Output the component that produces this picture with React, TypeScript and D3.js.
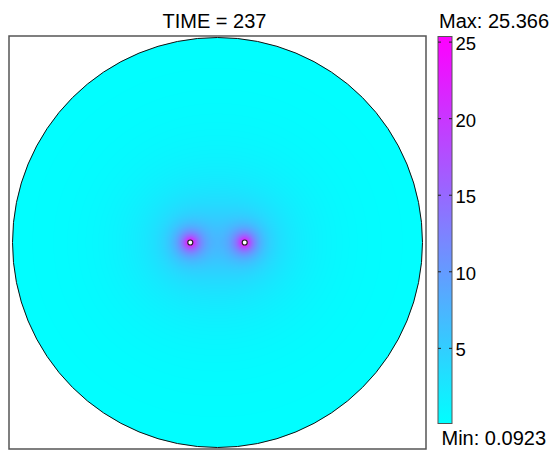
import React, { useMemo } from "react";
import * as d3 from "d3";

// Scalar field on a disc: two point sources over a low background
const TITLE = "TIME = 237";
const V_MIN = 0.0923;
const V_MAX = 25.366;
const COLORBAR_TICKS = [5, 10, 15, 20, 25];
// Source positions in disc-radius units
const SOURCE_X = [-0.1327, 0.1327];
const SOURCE_Y = [0, 0];
// Near-field and far-field amplitudes, decay lengths (disc-radius units)
const NEAR_AMP = [22, 22];
const FAR_AMP = [5.5, 5.5];
const NEAR_LEN = [0.039, 0.039];
const FAR_LEN = [0.2, 0.2];

const W = 555;
const H = 451;
const FRAME = { x0: 9, y0: 36, x1: 426, y1: 449 };
const DISC = { cx: 217.5, cy: 242.5, r: 205 };
const BAR = { x0: 438, x1: 452, y0: 36.5, y1: 423.5 };
const FONT = "'Liberation Sans', Arial, sans-serif";

const color = d3
  .scaleLinear<string>()
  .domain([V_MIN, V_MAX])
  .range(["#00ffff", "#ff00ff"])
  .interpolate(d3.interpolateRgb)
  .clamp(true);

function fieldValue(u: number, v: number): number {
  let s = V_MIN;
  for (let i = 0; i < SOURCE_X.length; i++) {
    const r = Math.hypot(u - SOURCE_X[i], v - SOURCE_Y[i]);
    s += NEAR_AMP[i] * Math.exp(-r / NEAR_LEN[i]) + FAR_AMP[i] * Math.exp(-r / FAR_LEN[i]);
  }
  return Math.min(s, V_MAX);
}

export default function App() {
  const size = Math.ceil(DISC.r * 2);
  const href = useMemo(() => {
    const canvas = document.createElement("canvas");
    canvas.width = size;
    canvas.height = size;
    const ctx = canvas.getContext("2d")!;
    const img = ctx.createImageData(size, size);
    for (let j = 0; j < size; j++) {
      for (let i = 0; i < size; i++) {
        const u = (i + 0.5 - DISC.r) / DISC.r;
        const v = (j + 0.5 - DISC.r) / DISC.r;
        const c = d3.rgb(color(fieldValue(u, v)));
        const k = (j * size + i) * 4;
        img.data[k] = c.r;
        img.data[k + 1] = c.g;
        img.data[k + 2] = c.b;
        img.data[k + 3] = 255;
      }
    }
    ctx.putImageData(img, 0, 0);
    return canvas.toDataURL();
  }, [size]);

  const yBar = d3.scaleLinear().domain([V_MIN, V_MAX]).range([BAR.y1, BAR.y0]);
  const xDisc = d3.scaleLinear().domain([-1, 1]).range([DISC.cx - DISC.r, DISC.cx + DISC.r]);
  const yDisc = d3.scaleLinear().domain([-1, 1]).range([DISC.cy - DISC.r, DISC.cy + DISC.r]);

  return (
    <svg
      width={W}
      height={H}
      style={{ position: "absolute", left: 0, top: 0, background: "#fff" }}
      fontFamily={FONT}
    >
      <defs>
        <clipPath id="disc-clip">
          <circle cx={DISC.cx} cy={DISC.cy} r={DISC.r} />
        </clipPath>
        <linearGradient id="bar-grad" x1="0" y1="1" x2="0" y2="0">
          {d3.range(0, 11).map((k) => {
            const t = k / 10;
            return <stop key={k} offset={t} stopColor={color(V_MIN + t * (V_MAX - V_MIN))} />;
          })}
        </linearGradient>
      </defs>

      <text x={214.5} y={27.7} textAnchor="middle" fontSize={20}>
        {TITLE}
      </text>

      <rect
        x={FRAME.x0}
        y={FRAME.y0}
        width={FRAME.x1 - FRAME.x0}
        height={FRAME.y1 - FRAME.y0}
        fill="none"
        stroke="#555"
        strokeWidth={1.5}
      />

      <image
        href={href}
        x={DISC.cx - DISC.r}
        y={DISC.cy - DISC.r}
        width={size}
        height={size}
        clipPath="url(#disc-clip)"
        preserveAspectRatio="none"
      />
      <circle cx={DISC.cx} cy={DISC.cy} r={DISC.r} fill="none" stroke="#111" strokeWidth={1} />

      {SOURCE_X.map((sx, i) => (
        <circle
          key={i}
          cx={xDisc(sx)}
          cy={yDisc(SOURCE_Y[i])}
          r={2.5}
          fill="#fff"
          stroke="#222"
          strokeWidth={1.2}
        />
      ))}

      <rect
        x={BAR.x0}
        y={BAR.y0}
        width={BAR.x1 - BAR.x0}
        height={BAR.y1 - BAR.y0}
        fill="url(#bar-grad)"
        stroke="#555"
        strokeWidth={1}
      />
      {COLORBAR_TICKS.map((t) => (
        <g key={t}>
          <line x1={BAR.x0} x2={BAR.x0 + 3} y1={yBar(t)} y2={yBar(t)} stroke="#222" strokeWidth={1} />
          <line x1={BAR.x1 - 3} x2={BAR.x1} y1={yBar(t)} y2={yBar(t)} stroke="#222" strokeWidth={1} />
          <text x={BAR.x1 + 3.5} y={yBar(t) + 8} fontSize={18.5}>
            {t}
          </text>
        </g>
      ))}
      <text x={439} y={28.3} fontSize={20}>
        Max: 25.366
      </text>
      <text x={441.5} y={445} fontSize={20}>
        Min: 0.0923
      </text>
    </svg>
  );
}
